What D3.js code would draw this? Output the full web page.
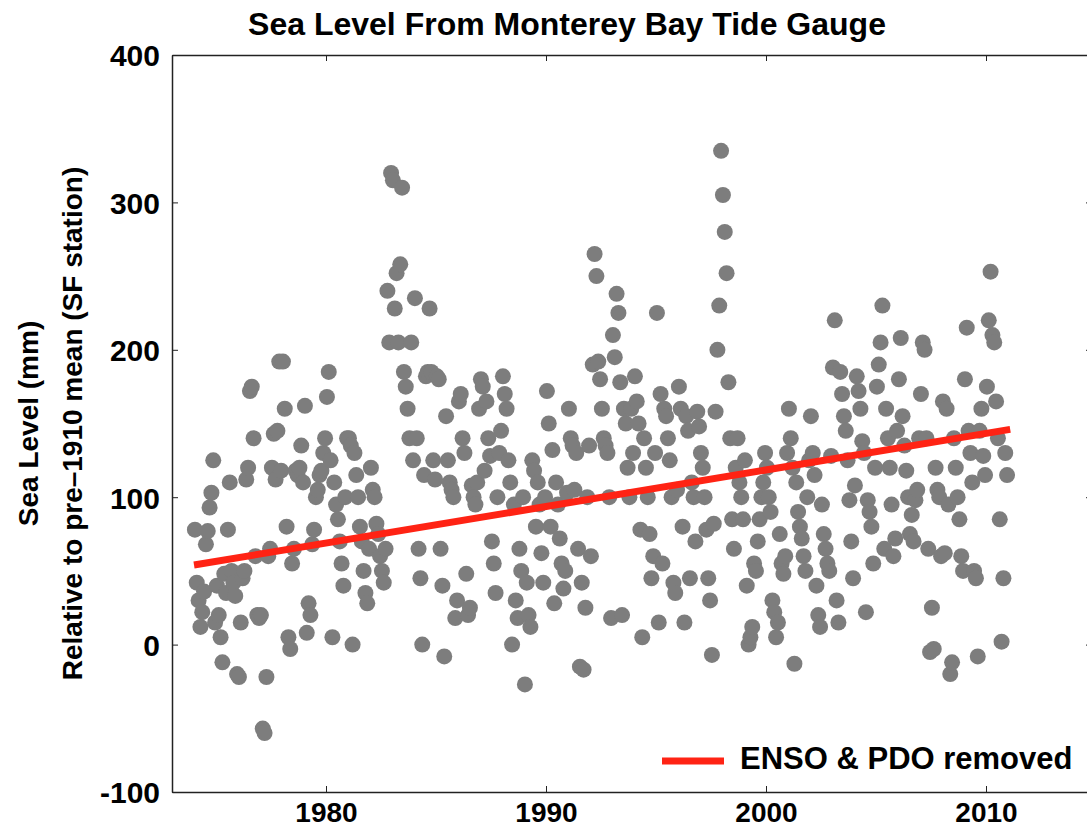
<!DOCTYPE html>
<html><head><meta charset="utf-8">
<script src="https://cdn.jsdelivr.net/npm/d3@7"></script>
<style>body{margin:0;background:#fff;} text{font-family:"Liberation Sans",Arial,Helvetica,sans-serif;font-weight:bold;fill:#000;}</style>
</head><body>
<svg id="c" width="1087" height="829"></svg>
<script>
const years = d3.range(1974, 2011);
// monthly values (mm), one row per year, Jan..Dec
const monthly = [
 [78, 42, 30, 12, 22, 36, 68, 77, 93, 103, 125, 15],
 [40, 20, 5, -12, 48, 35, 78, 110, 50, 42, 33, -20],
 [-22, 15, 45, 50, 112, 120, 172, 175, 140, 60, 20, 18],
 [20, -57, -60, -22, 60, 65, 120, 143, 112, 145, 192, 118],
 [192, 160, 80, 5, -3, 55, 65, 118, 115, 120, 135, 110],
 [162, 8, 28, 20, 68, 78, 100, 105, 115, 118, 130, 140],
 [168, 185, 125, 5, 110, 95, 85, 70, 55, 40, 100, 140],
 [140, 135, 0, 130, 115, 100, 80, 70, 50, 35, 28, 65],
 [120, 105, 100, 82, 75, 60, 50, 42, 65, 240, 205, 320],
 [315, 228, 252, 205, 258, 310, 185, 175, 160, 140, 205, 125],
 [235, 140, 65, 45, 0, 115, 182, 185, 228, 185, 125, 112],
 [182, 180, 65, 40, -8, 155, 125, 110, 105, 100, 18, 30],
 [165, 170, 140, 130, 48, 20, 25, 108, 100, 95, 110, 160],
 [180, 175, 118, 165, 140, 128, 70, 55, 35, 100, 130, 145],
 [182, 170, 160, 125, 110, 0, 95, 30, 18, 65, 50, 100],
 [-27, 42, 20, 12, 125, 118, 80, 110, 95, 62, 42, 100],
 [172, 150, 80, 132, 28, 110, 95, 72, 55, 38, 50, 103],
 [160, 140, 135, 105, 130, 65, -15, 42, -17, 25, 100, 135],
 [60, 190, 265, 250, 192, 180, 160, 140, 135, 130, 100, 18],
 [210, 195, 238, 225, 178, 20, 160, 150, 120, 100, 160, 130],
 [182, 165, 150, 78, 5, 140, 120, 100, 75, 45, 60, 130],
 [225, 15, 170, 55, 160, 155, 140, 125, 100, 42, 35, 105],
 [175, 160, 80, 15, 155, 145, 45, 110, 100, 70, 158, 148],
 [130, 120, 100, 78, 45, 30, -7, 82, 158, 200, 230, 335],
 [305, 280, 252, 178, 140, 85, 65, 120, 140, 110, 100, 85],
 [125, 40, 0, 5, 12, 55, 50, 70, 85, 100, 110, 130],
 [120, 100, 90, 30, 22, 5, 15, 75, 55, 48, 60, 130],
 [160, 140, 120, -13, 110, 90, 80, 72, 60, 50, 100, 125],
 [155, 130, 115, 40, 20, 12, 95, 75, 65, 55, 50, 128],
 [188, 220, 30, 15, 185, 170, 155, 145, 125, 98, 70, 45],
 [108, 182, 172, 160, 138, 130, 22, 98, 90, 80, 55, 120],
 [175, 190, 205, 230, 65, 160, 140, 120, 95, 60, 72, 145],
 [180, 208, 155, 135, 118, 100, 75, 88, 70, 98, 105, 140],
 [170, 205, 200, 140, 65, -5, 25, -3, 120, 105, 100, 60],
 [165, 62, 160, 95, -20, -12, 140, 120, 100, 85, 60, 50],
 [180, 215, 145, 130, 110, 50, 45, -8, 145, 160, 128, 115],
 [175, 220, 253, 210, 205, 165, 140, 85, 2, 45, 130, 115]
];
const trendYears = [1974, 2011.1];
const trendValues = [54, 146];
const xTicks = [1980, 1990, 2000, 2010];
const yTicks = [-100, 0, 100, 200, 300, 400];
const titleText = "Sea Level From Monterey Bay Tide Gauge";
const yLabel1 = "Sea Level (mm)";
const yLabel2 = "Relative to pre\u20131910 mean (SF station)";
const legendText = "ENSO & PDO removed";

const pts = [];
years.forEach((y, i) => monthly[i].forEach((v, m) => pts.push({t: y + (m + 0.5) / 12, v})));

const svg = d3.select("#c");
const L = 172, R = 1092, T = 55, B = 792;
const x = d3.scaleLinear().domain([1973, 1973 + (R - L) / 22]).range([L, R]);
const y = d3.scaleLinear().domain([-100, 400]).range([B, T]);

// points
svg.append("g").selectAll("circle").data(pts).join("circle")
  .attr("cx", d => x(d.t)).attr("cy", d => y(d.v)).attr("r", 8)
  .attr("fill", "#7d7d7d");

// trend line
svg.append("line")
  .attr("x1", x(trendYears[0])).attr("y1", y(trendValues[0]))
  .attr("x2", x(trendYears[1])).attr("y2", y(trendValues[1]))
  .attr("stroke", "#ff2314").attr("stroke-width", 7);

// axes
const axStyle = g => {
  g.select(".domain").attr("stroke", "#222").attr("stroke-width", 1.5);
  g.selectAll(".tick line").attr("stroke", "#222").attr("stroke-width", 1);
};
const gB = svg.append("g").attr("transform", `translate(0,${B})`)
  .call(d3.axisBottom(x).tickValues(xTicks).tickFormat(d3.format("d")).tickSizeInner(-6).tickSizeOuter(0).tickPadding(12));
gB.call(axStyle);
gB.selectAll("text").attr("font-size", 28).attr("dy", 0).attr("y", 30).attr("fill", "#000");
const gT = svg.append("g").attr("transform", `translate(0,${T})`)
  .call(d3.axisTop(x).tickValues(xTicks).tickFormat("").tickSizeInner(-6).tickSizeOuter(0));
gT.call(axStyle);
const gL = svg.append("g").attr("transform", `translate(${L},0)`)
  .call(d3.axisLeft(y).tickValues(yTicks).tickFormat(d3.format("d")).tickSizeInner(-6).tickSizeOuter(0).tickPadding(12));
gL.call(axStyle);
gL.selectAll("text").attr("font-size", 30).attr("x", -12).attr("dy", "0.36em").attr("fill", "#000")
  .text(d => d < 0 ? "-" + Math.abs(d) : d);
const gR = svg.append("g").attr("transform", `translate(${R},0)`)
  .call(d3.axisRight(y).tickValues(yTicks).tickFormat("").tickSizeInner(-6).tickSizeOuter(0));
gR.call(axStyle);

// title
svg.append("text").attr("x", 567).attr("y", 35).attr("text-anchor", "middle")
  .attr("font-size", 32).text(titleText);

// y labels
svg.append("text").attr("transform", `translate(38,${(T + B) / 2}) rotate(-90)`)
  .attr("text-anchor", "middle").attr("font-size", 28).text(yLabel1);
svg.append("text").attr("transform", `translate(82,${(T + B) / 2}) rotate(-90)`)
  .attr("text-anchor", "middle").attr("font-size", 28).text(yLabel2);

// legend
svg.append("line").attr("x1", 662).attr("x2", 724).attr("y1", 761).attr("y2", 761)
  .attr("stroke", "#ff2314").attr("stroke-width", 7);
svg.append("text").attr("x", 740).attr("y", 769).attr("font-size", 31).text(legendText);
</script>
</body></html>
